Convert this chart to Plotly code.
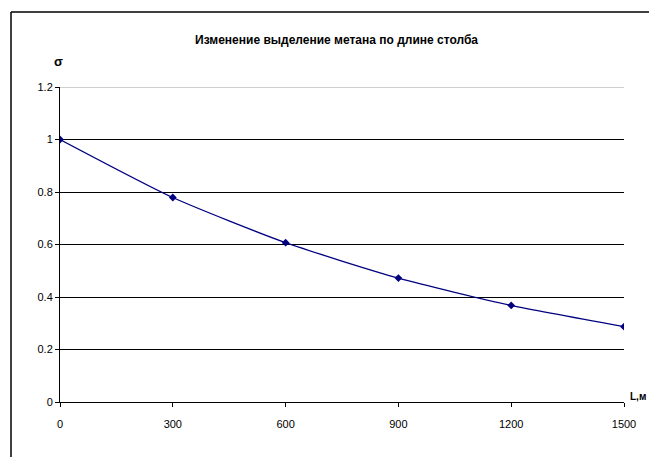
import plotly.graph_objects as go

# Data
length_m = [0, 300, 600, 900, 1200, 1500]
sigma = [1.0, 0.779, 0.607, 0.472, 0.368, 0.287]
x_ticks = [0, 300, 600, 900, 1200, 1500]
y_ticks = [0, 0.2, 0.4, 0.6, 0.8, 1, 1.2]
y_tick_text = ["0", "0.2", "0.4", "0.6", "0.8", "1", "1.2"]

W, H = 649, 457
L, R, T, B = 60, 25, 87, 55
pw, ph = W - L - R, H - T - B

def px(xp):
    return (xp - L) / pw

def py(yp):
    return (H - B - yp) / ph

FONT = "Liberation Sans Narrow, Arial Narrow, Liberation Sans, Arial, sans-serif"

fig = go.Figure()
fig.add_trace(go.Scatter(
    x=length_m, y=sigma, mode="lines+markers",
    line=dict(color="#000080", width=1.3, shape="spline", smoothing=0.6),
    marker=dict(symbol="diamond", size=6, color="#000080"),
    showlegend=False, hoverinfo="x+y",
))

fig.update_layout(
    width=W, height=H,
    margin=dict(l=L, r=R, t=T, b=B),
    paper_bgcolor="white", plot_bgcolor="white",
    font=dict(family=FONT, size=11, color="black"),
    xaxis=dict(
        range=[0, 1500], tickvals=x_ticks, ticktext=[str(v) for v in x_ticks],
        showgrid=False, zeroline=False, showline=True, linecolor="black", linewidth=1,
        ticks="outside", ticklen=4, tickcolor="black", tickwidth=1,
        ticklabelstandoff=8,
        tickfont=dict(family=FONT, size=11, color="black"),
    ),
    yaxis=dict(
        range=[0, 1.2], tickvals=y_ticks, ticktext=y_tick_text,
        showgrid=True, gridcolor="black", gridwidth=1,
        zeroline=False, showline=True, linecolor="black", linewidth=1,
        ticks="outside", ticklen=4, tickcolor="black", tickwidth=1,
        tickfont=dict(family=FONT, size=11, color="black"),
    ),
    shapes=[
        # top gridline drawn grey (plot area border in the reference)
        dict(type="line", xref="x", yref="y", x0=0, x1=1500, y0=1.2, y1=1.2,
             line=dict(color="#a0a0a0", width=1), layer="above"),
        # outer chart frame (left and top edges)
        dict(type="line", xref="paper", yref="paper", x0=px(11), x1=px(W + 2),
             y0=py(12), y1=py(12), line=dict(color="black", width=1.5)),
        dict(type="line", xref="paper", yref="paper", x0=px(11), x1=px(11),
             y0=py(12), y1=py(H + 2), line=dict(color="black", width=1.5)),
    ],
    annotations=[
        dict(text="<b>Изменение выделение метана по длине столба</b>",
             xref="paper", yref="paper", x=px(336), y=py(40),
             xanchor="center", yanchor="middle", showarrow=False,
             font=dict(family=FONT, size=12, color="black")),
        dict(text="<b>σ</b>", xref="paper", yref="paper", x=px(58), y=py(61),
             xanchor="center", yanchor="middle", showarrow=False,
             font=dict(family=FONT, size=13, color="black")),
        dict(text="<b>L,м</b>", xref="paper", yref="paper", x=px(628), y=py(396),
             xanchor="left", yanchor="middle", showarrow=False,
             font=dict(family=FONT, size=10, color="black")),
    ],
)

fig.write_html("out.html")
